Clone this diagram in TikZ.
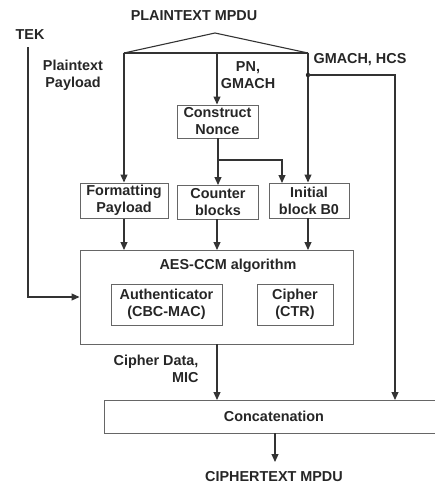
\documentclass[tikz,border=0pt]{standalone}
\usepackage{fontspec}
\setmainfont{Liberation Sans}
\usetikzlibrary{arrows.meta}
\begin{document}
\begin{tikzpicture}[x=1pt,y=-1pt,
  font=\fontsize{14.4}{17}\selectfont\bfseries,
  line width=1.1pt,
  lbl/.style={text=black!85,inner sep=0pt,align=center},
  box/.style={draw=black!60,line width=1pt,text=black!85,inner sep=0pt,align=center,minimum width=#1},
  wire/.style={draw=black!80},
  arr/.style={draw=black!80,-{Triangle[length=8pt,width=7pt]}}]
\useasboundingbox (0,0) rectangle (435,485);
\clip (0,0) rectangle (435,485);
% labels
\node[lbl] (plain) at (194,16) {PLAINTEXT MPDU};
\node[lbl] (tek) at (30,35) {TEK};
\node[lbl] (pp) at (73,75) {Plaintext\\Payload};
\node[lbl] (pn) at (248,75) {PN,\\GMACH};
\node[lbl] (gh) at (360,60) {GMACH, HCS};
\node[lbl,align=right,anchor=east] (cd) at (199,369) {Cipher Data,\\MIC};
\node[lbl] (out) at (274,477) {CIPHERTEXT MPDU};
% boxes
\node[box=81,minimum height=33] (cn) at (217.5,121.5) {Construct\\Nonce};
\node[box=88,minimum height=35] (fp) at (124,200.5) {Formatting\\Payload};
\node[box=81,minimum height=34] (cb) at (218,202) {Counter\\blocks};
\node[box=80,minimum height=35] (ib) at (309,200.5) {Initial\\block B0};
\node[box=273,minimum height=94] (aes) at (216.5,297) {};
\node[lbl] (aest) at (228,266) {AES-CCM algorithm};
\node[box=111,minimum height=41] (auth) at (166.5,304.5) {Authenticator\\(CBC-MAC)};
\node[box=76,minimum height=41] (ciph) at (295,304.5) {Cipher\\(CTR)};
\node[box=336,minimum height=33] (cat) at (272,416.5) {};
\node[lbl] (catt) at (274,416) {Concatenation};
% roof
\coordinate (apex) at (215,33);
\coordinate (rl) at (124,53);
\coordinate (rr) at (308,53);
\coordinate (rm) at (217,53);
\draw[wire] (rl) -- (apex) -- (rr);
\draw[wire] (rl) -- (rr);
\draw[arr] (rl) -- (fp.north);
\draw[arr] (rm) -- (rm |- cn.north);
\draw[arr] (rr) -- (rr |- ib.north);
% nonce split
\coordinate (sp) at (218,160);
\draw[arr] (218,138) -- (218,185);
\draw[arr] (sp) -- (282,160) -- (282,183);
% down to AES
\draw[arr] (fp.south) -- (124,250);
\draw[arr] (217,219) -- (217,250);
\draw[arr] (308,218) -- (308,250);
% TEK
\coordinate (tk) at (28,47);
\draw[arr] (tk) -- (28,297) -- (aes.west);
% GMACH HCS
\coordinate (dot) at (308,75);
\fill[black!85] (dot) circle (2.2);
\draw[arr] (dot) -- (395,75) -- (395,400);
% AES to concat
\draw[arr] (217,344) -- (217,400);
\draw[arr] (275,433) -- (275,462);
\end{tikzpicture}
\end{document}
